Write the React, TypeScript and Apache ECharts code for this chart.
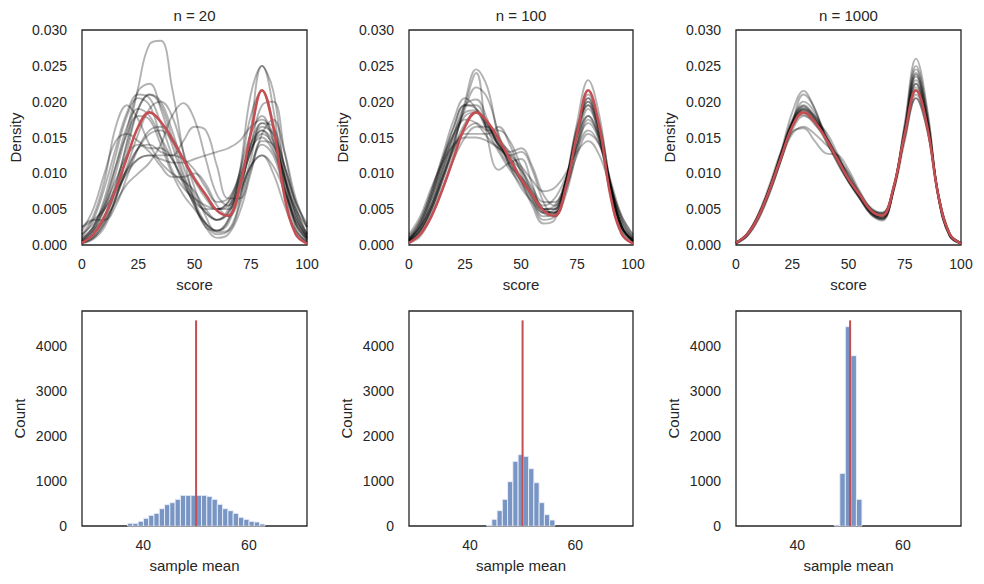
import React, { useEffect, useRef } from 'react';
import * as echarts from 'echarts';

// ---------- data ----------
const PANEL_TITLES = ['n = 20', 'n = 100', 'n = 1000'];
const SCORE_GRID = [0, 5, 10, 15, 20, 25, 30, 35, 40, 45, 50, 55, 60, 65, 70, 75, 80, 85, 90, 95, 100];

// densities are stored in thousandths (x 0.001)
const POP_DENSITY = [0.3, 1.5, 4, 7.8, 12.2, 16.5, 18.5, 17.2, 14.8, 12, 9.2, 7, 4.8, 4.1, 8, 15.5, 21.6, 16.5, 6.8, 1.5, 0.2];

const CURVES_N20 = [
  [0.3, 1.2, 3.5, 8, 14.5, 22, 28, 28.5, 22, 13, 6, 2.5, 2, 3.5, 7, 11, 12.5, 10, 5.5, 2, 0.5],
  [1.5, 4, 9, 16.5, 19.5, 17.5, 14, 11.5, 10, 9, 7.5, 5, 3.5, 4.5, 9, 14, 16, 13.5, 8, 3.5, 1],
  [0.5, 2, 5, 10, 16, 21.5, 22.5, 19, 14, 9.5, 6.5, 4.5, 3.5, 5, 10, 18, 21.5, 17, 9, 3, 0.7],
  [0.5, 1.5, 3.5, 6, 8.5, 10, 11.5, 14, 18, 19.8, 17.5, 12, 7, 5.5, 8, 13, 15.5, 14, 9.5, 4.5, 1.5],
  [0.3, 1, 3, 6.5, 10.5, 13.5, 14, 13, 12.5, 14.5, 16.5, 16, 11, 6.5, 6.5, 10.5, 14.5, 14, 9.5, 4, 1],
  [1, 2.5, 5, 8, 10.5, 12, 12.5, 12, 11.5, 11.5, 12, 12.5, 13, 13.5, 14.5, 16.5, 17.5, 15.5, 11, 6, 2.5],
  [0.8, 2.5, 6, 11, 15.5, 18, 17.5, 14, 10, 7, 5, 3, 2, 3.5, 10, 21, 25, 19, 8, 2, 0.4],
  [0.4, 1.5, 4, 8.5, 14, 19, 21, 19.5, 15, 10, 6, 3, 1.5, 2, 6, 16, 25, 21.5, 10, 2.5, 0.3],
  [1.2, 3.5, 8, 13.5, 18.5, 21, 20.5, 17, 12.5, 8.5, 6, 5, 5, 6, 9, 14, 19.5, 20, 13, 5.5, 1.5],
  [2.5, 3.5, 5, 7.5, 10, 12, 12.5, 12.5, 12.5, 12, 10.5, 8, 6, 6.5, 9.5, 13.5, 15, 13, 9, 5, 2.5],
  [2, 5, 10, 14.5, 15.5, 14.5, 13.5, 13.5, 12, 9, 5.5, 3, 2, 3, 8, 14, 17, 15, 9.5, 4, 1.2],
  [0.2, 0.8, 2.5, 6.5, 13, 19, 21, 20, 16, 11, 7, 4.5, 3.5, 4.5, 8, 13, 16, 14.5, 10, 4.5, 1.2],
  [0.3, 1, 3, 6.5, 11, 15.5, 19, 20, 18, 13, 8, 4, 1.8, 2, 5.5, 11, 14, 12.5, 7.5, 3, 0.8],
  [1.5, 3, 5.5, 9, 12.5, 14, 13, 11, 9.5, 9.5, 10, 8.5, 5.5, 4, 6.5, 12, 17, 16.5, 11, 5, 1.5],
  [0.5, 2, 5.5, 11, 16.5, 19, 18, 15, 12, 9, 5.5, 2.5, 1, 1.5, 4.5, 10, 15.5, 17.5, 13, 6.5, 2.5],
  [2.5, 3.5, 3.5, 5.5, 9.5, 13.5, 16, 16.5, 15, 12, 9, 6.5, 5, 5.5, 8.5, 13, 16.5, 15.5, 11, 6, 3],
  [0.6, 2.5, 6.5, 12.5, 18, 20.5, 19.5, 15, 10.5, 8, 6.5, 5.5, 5, 6, 10, 15.5, 18, 14.5, 8, 3, 0.7],
  [0.8, 2, 4, 7, 10.5, 13.5, 15.5, 16, 14.5, 12, 9.5, 7, 5, 5, 7.5, 11, 12.5, 11, 7.5, 3.5, 1],
];

const CURVES_N100 = [
  [0.5, 2, 5, 9.5, 14, 20, 24.5, 22, 15, 11, 9, 7, 5, 5.5, 9, 15.5, 19.5, 15, 7, 2, 0.5],
  [0.4, 1.5, 4.5, 9, 14, 19.5, 24, 15, 10.5, 11.5, 12, 8.5, 5, 5, 9, 15, 18, 14.5, 7.5, 2.5, 0.6],
  [0.7, 2.5, 5.5, 10, 14.5, 19, 22, 20.5, 15.5, 11, 8, 6, 4, 4.5, 9, 16, 20.5, 16, 7.5, 2.5, 0.6],
  [1, 3.5, 7.5, 12.5, 17.5, 20.5, 19, 16, 14, 11.5, 9, 6.5, 4.5, 4.5, 8.5, 15.5, 20, 16, 8, 2.5, 0.7],
  [0.6, 2.5, 6.5, 11.5, 16.5, 19.5, 19.5, 17, 14.5, 12, 9.5, 7, 5, 4.5, 7.5, 14, 19, 15.5, 8, 2.5, 0.6],
  [0.8, 3, 7, 11.5, 15.5, 18.5, 18.8, 16.5, 14.5, 13, 10.5, 7, 4.5, 4, 8, 15.5, 21, 17, 8.5, 2.5, 0.6],
  [0.5, 2, 5, 9, 13, 16.5, 18.5, 17, 14, 12.5, 13, 10.5, 6, 4, 7, 13, 17.5, 15, 8.5, 3, 0.8],
  [1.2, 3.5, 7.5, 12, 15.5, 17.5, 17, 15, 13.5, 12, 10.5, 8, 6, 6, 9, 14, 17, 14.5, 8.5, 3.5, 1],
  [0.6, 2.5, 6, 10.5, 14, 15.5, 15.5, 15.5, 16.5, 14, 10, 6.5, 4.5, 5, 8.5, 14, 18, 15, 8, 3, 0.8],
  [1.5, 4, 8, 11.5, 14, 15, 15, 14.5, 13.5, 12.5, 11, 9, 7.5, 8, 10, 13, 14.5, 12.5, 8, 4, 1.5],
  [0.3, 1.2, 4, 8, 12, 15, 16.5, 16.5, 15, 12.5, 9, 5.5, 3, 3.5, 8.5, 17, 23, 18, 8, 2, 0.4],
  [0.8, 3, 6.5, 11, 15, 18, 18.5, 16.5, 14, 11.5, 9, 7, 5, 5, 9, 16, 20.5, 16.5, 8.5, 2.5, 0.6],
  [0.5, 2, 5, 9.5, 13.5, 16, 17, 16, 16, 14.5, 11, 7.5, 5.5, 6.5, 9.5, 13.5, 16, 14, 8.5, 3.5, 1],
  [0.7, 3, 7, 12, 16.5, 19.5, 19, 16, 13, 10.5, 8.5, 6, 3.5, 4, 9, 16.5, 19.5, 15.5, 8, 2.5, 0.6],
  [0.9, 2.5, 5.5, 9.5, 13.5, 17, 18.5, 17, 14, 13, 13.5, 11, 7, 5.5, 8, 12.5, 15.5, 14, 9, 4, 1.3],
  [0.5, 2, 5.5, 10.5, 15.5, 19.5, 20.3, 17.5, 13.5, 11, 9.5, 7.5, 5, 4.5, 8, 15, 20, 16, 8, 2.5, 0.5],
];

const CURVES_N1000 = [
  [0.3, 1.5, 4.2, 8, 12.5, 17, 19, 17.5, 15, 12, 9, 6.8, 4.6, 4, 8, 16, 23, 17, 6.5, 1.3, 0.2],
  [0.3, 1.4, 4, 8, 13, 18.5, 21.5, 19, 15, 11.5, 8.8, 6.5, 4.5, 3.8, 7.8, 16, 24, 17.5, 6.5, 1.3, 0.2],
  [0.4, 1.6, 4.2, 8, 12, 15.5, 16.5, 15.5, 14, 12.5, 10, 7.3, 5, 4.5, 8, 15, 20.5, 16, 6.8, 1.5, 0.3],
  [0.2, 1.2, 3.6, 7.2, 11.8, 17, 21, 19, 14.5, 12, 10, 7, 4.5, 3.6, 7.8, 16.5, 25, 18.5, 6.8, 1.2, 0.2],
  [0.3, 1.5, 4, 7.8, 12.5, 17, 18.8, 17, 14.5, 11.5, 8.8, 6.5, 4.2, 3.4, 7.8, 17, 26, 19, 6.5, 1.2, 0.2],
  [0.3, 1.6, 4.3, 8.2, 12.8, 17.2, 19.2, 17.8, 15.2, 12.4, 9.5, 7, 5, 4.2, 7.5, 14.5, 20.5, 16, 7, 1.6, 0.3],
  [0.3, 1.5, 4, 7.5, 11.8, 16, 18, 17.2, 15.8, 12.8, 9.5, 7.2, 5, 4.4, 8, 15, 21, 16.5, 7, 1.6, 0.3],
  [0.3, 1.5, 4, 8, 12.8, 17.5, 19.5, 18, 15, 11.8, 9, 6.8, 4.5, 3.8, 7.8, 16, 23.5, 17.5, 6.8, 1.4, 0.2],
  [0.3, 1.6, 4.4, 8.5, 13, 15.8, 16.3, 14.5, 12.8, 12.6, 10.5, 7.5, 5.2, 4.5, 8, 15.5, 22, 16.5, 6.8, 1.5, 0.3],
  [0.3, 1.5, 4, 7.8, 12.3, 16.8, 18.8, 17.5, 15, 12.2, 9.3, 7, 4.7, 4, 7.9, 15.8, 22.5, 17, 6.9, 1.5, 0.2],
  [0.2, 1.3, 3.8, 7.6, 12, 16.5, 19, 18, 15.5, 12, 9, 6.5, 4.3, 3.6, 7.5, 15.8, 23.8, 17.8, 6.8, 1.3, 0.2],
  [0.3, 1.6, 4.2, 8, 12.6, 17, 18.2, 16.8, 15, 12.5, 9.5, 7, 4.8, 4.3, 8.2, 15.5, 21.5, 16.5, 7, 1.6, 0.3],
  [0.3, 1.5, 4.1, 8, 12.6, 17.2, 19.4, 17.6, 14.8, 12, 9, 6.8, 4.6, 3.9, 7.6, 15.5, 22.5, 17.2, 6.8, 1.4, 0.2],
  [0.2, 1.3, 3.7, 7.4, 12, 17, 20, 18.5, 15, 11.8, 9, 6.6, 4.4, 3.7, 7.8, 16.5, 24.5, 18, 6.6, 1.3, 0.2],
];

const HIST_N20_START = 37.03;
const HIST_N20_WIDTH = 1.0;
const HIST_N20_COUNTS = [60, 60, 104, 170, 237, 281, 385, 474, 518, 592, 681, 681, 681, 681, 681, 659, 592, 481, 385, 340, 281, 193, 148, 104, 89, 45];

const HIST_N100_START = 43.15;
const HIST_N100_WIDTH = 1.0;
const HIST_N100_COUNTS = [15, 149, 341, 593, 985, 1437, 1585, 1548, 1274, 963, 519, 252, 133];

const HIST_N1000_START = 47.0;
const HIST_N1000_WIDTH = 1.05;
const HIST_N1000_COUNTS = [20, 1170, 4430, 3785, 593];

const TRUE_MEAN = 50;
const MEAN_LINE_TOP = 4570;

const SCORE_TICKS = [0, 25, 50, 75, 100];
const MEAN_TICK_STEP = 20;

// ---------- styling ----------
const FONT = '"Liberation Sans", Arial, sans-serif';
const TEXT = '#262626';
const RED = '#c44e52';

const COLS = [
  { left: 82, width: 225 },
  { left: 409, width: 224 },
  { left: 736, width: 225 },
];
const TOP_ROW = { top: 30, height: 215 };
const BOTTOM_ROW = { top: 311, height: 215 };

function buildOption() {
  const curvesByPanel = [CURVES_N20, CURVES_N100, CURVES_N1000];
  const hists = [
    { start: HIST_N20_START, width: HIST_N20_WIDTH, counts: HIST_N20_COUNTS },
    { start: HIST_N100_START, width: HIST_N100_WIDTH, counts: HIST_N100_COUNTS },
    { start: HIST_N1000_START, width: HIST_N1000_WIDTH, counts: HIST_N1000_COUNTS },
  ];

  const grid: any[] = [];
  const xAxis: any[] = [];
  const yAxis: any[] = [];
  const series: any[] = [];
  const graphic: any[] = [];

  const labelStyle = { color: TEXT, fontSize: 14, fontFamily: FONT };
  const nameStyle = { color: TEXT, fontSize: 15, fontFamily: FONT };
  const border = { show: true, borderColor: '#262626', borderWidth: 1.3, backgroundColor: '#fff' };

  COLS.forEach((c) => {
    grid.push({ ...border, left: c.left, width: c.width, top: TOP_ROW.top, height: TOP_ROW.height });
  });
  COLS.forEach((c) => {
    grid.push({ ...border, left: c.left, width: c.width, top: BOTTOM_ROW.top, height: BOTTOM_ROW.height });
  });

  // top row axes
  for (let p = 0; p < 3; p++) {
    xAxis.push({
      type: 'value', gridIndex: p, min: SCORE_TICKS[0], max: SCORE_TICKS[SCORE_TICKS.length - 1],
      interval: SCORE_TICKS[1] - SCORE_TICKS[0],
      axisLine: { show: false }, axisTick: { show: false }, splitLine: { show: false },
      axisLabel: { ...labelStyle, margin: 12 },
      name: 'score', nameLocation: 'middle', nameGap: 32, nameTextStyle: nameStyle,
    });
    yAxis.push({
      type: 'value', gridIndex: p, min: 0, max: 30, interval: 5,
      axisLine: { show: false }, axisTick: { show: false }, splitLine: { show: false },
      axisLabel: { ...labelStyle, margin: 15, formatter: (v: number) => (v / 1000).toFixed(3) },
      name: 'Density', nameLocation: 'middle', nameGap: 59, nameTextStyle: nameStyle,
    });
  }
  // bottom row axes
  for (let p = 0; p < 3; p++) {
    xAxis.push({
      type: 'value', gridIndex: 3 + p, min: 28.4, max: 71, splitNumber: 2,
      axisLine: { show: false }, axisTick: { show: false }, splitLine: { show: false },
      axisLabel: {
        ...labelStyle, margin: 12,
        formatter: (v: number) => (Math.abs(v / MEAN_TICK_STEP - Math.round(v / MEAN_TICK_STEP)) < 1e-6 ? String(Math.round(v)) : ''),
      },
      name: 'sample mean', nameLocation: 'middle', nameGap: 32, nameTextStyle: nameStyle,
    });
    yAxis.push({
      type: 'value', gridIndex: 3 + p, min: 0, max: 4778, interval: 1000,
      axisLine: { show: false }, axisTick: { show: false }, splitLine: { show: false },
      axisLabel: {
        ...labelStyle, margin: 15,
        formatter: (v: number) => (v % 1000 === 0 ? String(v) : ''),
      },
      name: 'Count', nameLocation: 'middle', nameGap: 55, nameTextStyle: nameStyle,
    });
  }

  // density curves
  curvesByPanel.forEach((curves, p) => {
    curves.forEach((c) => {
      series.push({
        type: 'line', xAxisIndex: p, yAxisIndex: p, silent: true,
        data: SCORE_GRID.map((x, i) => [x, c[i]]),
        smooth: 0.4, showSymbol: false, symbol: 'none',
        lineStyle: { color: 'rgba(0,0,0,0.3)', width: 1.9 },
        z: 2,
      });
    });
    series.push({
      type: 'line', xAxisIndex: p, yAxisIndex: p, silent: true,
      data: SCORE_GRID.map((x, i) => [x, POP_DENSITY[i]]),
      smooth: 0.4, showSymbol: false, symbol: 'none',
      lineStyle: { color: RED, width: 2.6 },
      z: 3,
    });
  });

  // histograms
  hists.forEach((h, p) => {
    series.push({
      type: 'custom', xAxisIndex: 3 + p, yAxisIndex: 3 + p, silent: true,
      data: h.counts.map((cnt, i) => [h.start + i * h.width, h.start + (i + 1) * h.width, cnt]),
      encode: { x: [0, 1], y: 2 },
      renderItem: (params: any, api: any) => {
        const p0 = api.coord([api.value(0), api.value(2)]);
        const p1 = api.coord([api.value(1), 0]);
        return {
          type: 'rect',
          shape: { x: p0[0], y: p0[1], width: p1[0] - p0[0], height: p1[1] - p0[1] },
          style: { fill: 'rgba(76,114,176,0.75)', stroke: 'rgba(235,240,250,0.9)', lineWidth: 1 },
        };
      },
      z: 2,
    });
    series.push({
      type: 'line', xAxisIndex: 3 + p, yAxisIndex: 3 + p, silent: true,
      data: [[TRUE_MEAN, 0], [TRUE_MEAN, MEAN_LINE_TOP]],
      showSymbol: false, symbol: 'none',
      lineStyle: { color: RED, width: 2 },
      z: 3,
    });
  });

  // titles
  PANEL_TITLES.forEach((t, p) => {
    graphic.push({
      type: 'text',
      x: COLS[p].left + COLS[p].width / 2,
      y: 15,
      style: { text: t, align: 'center', verticalAlign: 'middle', fontSize: 15, fontFamily: FONT, fill: TEXT },
    });
  });

  return {
    animation: false,
    backgroundColor: '#fff',
    grid, xAxis, yAxis, series, graphic,
  };
}

export default function App() {
  const ref = useRef<HTMLDivElement>(null);
  useEffect(() => {
    if (!ref.current) return;
    const chart = echarts.init(ref.current, undefined, { renderer: 'svg' });
    chart.setOption(buildOption() as any);
    return () => chart.dispose();
  }, []);
  return (
    <div
      ref={ref}
      style={{ position: 'fixed', left: 0, top: 0, width: 984, height: 584, background: '#fff' }}
    />
  );
}
